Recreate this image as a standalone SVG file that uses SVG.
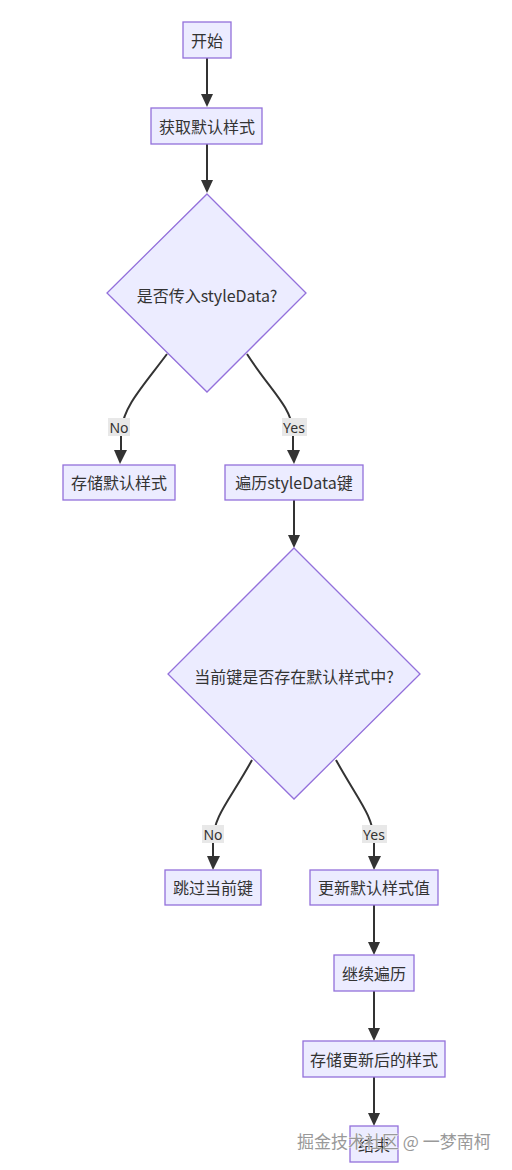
<svg xmlns="http://www.w3.org/2000/svg" width="512" height="1170" viewBox="0 0 512 1170">
<style>
.n{fill:#ECECFF;stroke:#9370DB;stroke-width:1.3}
.t{font-family:"Noto Sans CJK SC","Noto Sans",sans-serif;font-size:16px;fill:#333;text-anchor:middle;dominant-baseline:central}
.e{fill:none;stroke:#333;stroke-width:2}
.h{fill:#333}
.lb{fill:#e8e8e8}
.lt{font-family:"Noto Sans","Noto Sans CJK SC",sans-serif;font-size:14px;fill:#333;text-anchor:middle;dominant-baseline:central}
.wm{font-family:"Noto Sans CJK SC",sans-serif;font-size:17px;fill:#999;stroke:#fff;stroke-width:0.6;paint-order:stroke}
</style>
<rect width="512" height="1170" fill="#fff"/>
<g id="edges">
<path class="e" d="M207,58V95"/>
<path class="h" d="M201,94L213,94L207,107z"/>
<path class="e" d="M207,144V181"/>
<path class="h" d="M201,180L213,180L207,193z"/>
<path class="e" d="M167,354C140,390 125,405 121,430V452"/>
<path class="h" d="M114,450L127,450L120,464z"/>
<path class="e" d="M247,354C270,390 290,405 293,430V452"/>
<path class="h" d="M287,450L300,450L294,464z"/>
<path class="e" d="M294,500V536"/>
<path class="h" d="M288,535L300,535L294,548z"/>
<path class="e" d="M252,760C230,800 214,815 213,840V857"/>
<path class="h" d="M207,856L220,856L213,870z"/>
<path class="e" d="M336,760C358,800 373,815 374,840V857"/>
<path class="h" d="M368,856L381,856L374,870z"/>
<path class="e" d="M374,905V943"/>
<path class="h" d="M368,942L380,942L374,955z"/>
<path class="e" d="M374,991V1029"/>
<path class="h" d="M368,1028L380,1028L374,1041z"/>
<path class="e" d="M374,1077V1114"/>
<path class="h" d="M368,1113L380,1113L374,1126z"/>
</g>
<g id="labels">
<rect class="lb" x="108" y="418" width="22" height="18"/><text class="lt" x="119" y="427">No</text>
<rect class="lb" x="282" y="418" width="25" height="18"/><text class="lt" x="294" y="427">Yes</text>
<rect class="lb" x="202" y="825" width="22" height="18"/><text class="lt" x="213" y="834">No</text>
<rect class="lb" x="362" y="825" width="25" height="18"/><text class="lt" x="374" y="834">Yes</text>
</g>
<g id="n1"><rect class="n" x="183" y="22" width="48" height="36"/><text class="t" x="207" y="40">开始</text></g>
<g id="n2"><rect class="n" x="151" y="108" width="111" height="36"/><text class="t" x="207" y="126">获取默认样式</text></g>
<g id="n3"><polygon class="n" points="207,194 306,293 207,392 107,293"/><text class="t" x="207" y="295">是否传入styleData?</text></g>
<g id="n4"><rect class="n" x="63" y="465" width="112" height="35"/><text class="t" x="119" y="482">存储默认样式</text></g>
<g id="n5"><rect class="n" x="225" y="465" width="138" height="35"/><text class="t" x="294" y="482">遍历styleData键</text></g>
<g id="n6"><polygon class="n" points="294,548 420,674 294,799 168,674"/><text class="t" x="294" y="676">当前键是否存在默认样式中?</text></g>
<g id="n7"><rect class="n" x="165" y="870" width="96" height="35"/><text class="t" x="213" y="887">跳过当前键</text></g>
<g id="n8"><rect class="n" x="310" y="870" width="128" height="35"/><text class="t" x="374" y="887">更新默认样式值</text></g>
<g id="n9"><rect class="n" x="334" y="955" width="80" height="36"/><text class="t" x="374" y="973">继续遍历</text></g>
<g id="n10"><rect class="n" x="303" y="1041" width="142" height="36"/><text class="t" x="374" y="1059">存储更新后的样式</text></g>
<g id="n11"><rect class="n" x="350" y="1126" width="48" height="36"/><text class="t" x="374" y="1144">结束</text></g>
<text class="wm" x="297" y="1148">掘金技术社区 @ 一梦南柯</text>
</svg>
